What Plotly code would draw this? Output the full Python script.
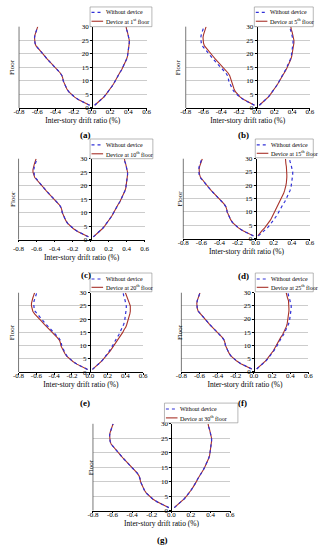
import plotly.graph_objects as go

# ---------------- data ----------------
floors = list(range(1, 31))
x_tickvals = [-0.8, -0.6, -0.4, -0.2, 0.0, 0.2, 0.4, 0.6]
x_ticktext = ["-0.8", "-0.6", "-0.4", "-0.2", "0.0", "0.2", "0.4", "0.6"]
y_tickvals = [0, 5, 10, 15, 20, 25, 30]

panel_letters = ["(a)", "(b)", "(c)", "(d)", "(e)", "(f)", "(g)"]
device_labels = ["Device at 1<sup>st</sup> floor", "Device at 5<sup>th</sup> floor",
                 "Device at 10<sup>th</sup> floor", "Device at 15<sup>th</sup> floor",
                 "Device at 20<sup>th</sup> floor", "Device at 25<sup>th</sup> floor",
                 "Device at 30<sup>th</sup> floor"]

without_neg = [-0.025, -0.09, -0.145, -0.19, -0.225, -0.255, -0.275, -0.29, -0.305, -0.315,
               -0.32, -0.33, -0.35, -0.38, -0.41, -0.44, -0.465, -0.49, -0.515, -0.54,
               -0.57, -0.595, -0.615, -0.625, -0.63, -0.63, -0.625, -0.615, -0.605, -0.595]
without_pos = [0.03, 0.065, 0.10, 0.13, 0.155, 0.18, 0.20, 0.22, 0.24, 0.255,
               0.27, 0.29, 0.305, 0.325, 0.34, 0.355, 0.37, 0.38, 0.39, 0.395,
               0.40, 0.405, 0.41, 0.41, 0.41, 0.405, 0.40, 0.39, 0.38, 0.375]

dev1_neg = [-0.025, -0.09, -0.145, -0.19, -0.225, -0.255, -0.275, -0.29, -0.305, -0.315,
            -0.32, -0.33, -0.35, -0.38, -0.41, -0.44, -0.465, -0.49, -0.515, -0.54,
            -0.57, -0.595, -0.615, -0.625, -0.63, -0.63, -0.625, -0.615, -0.605, -0.595]
dev1_pos = [0.03, 0.065, 0.10, 0.13, 0.155, 0.18, 0.20, 0.22, 0.24, 0.255,
            0.27, 0.29, 0.305, 0.325, 0.34, 0.355, 0.37, 0.38, 0.39, 0.395,
            0.40, 0.405, 0.41, 0.41, 0.41, 0.405, 0.40, 0.39, 0.38, 0.375]

dev5_neg = [-0.025, -0.09, -0.14, -0.185, -0.215, -0.24, -0.255, -0.265, -0.28, -0.29,
            -0.295, -0.305, -0.325, -0.355, -0.385, -0.415, -0.44, -0.465, -0.49, -0.515,
            -0.545, -0.57, -0.59, -0.60, -0.605, -0.605, -0.60, -0.59, -0.58, -0.57]
dev5_pos = [0.03, 0.065, 0.10, 0.13, 0.155, 0.18, 0.20, 0.22, 0.24, 0.26,
            0.275, 0.295, 0.31, 0.33, 0.345, 0.36, 0.375, 0.385, 0.395, 0.40,
            0.41, 0.415, 0.42, 0.42, 0.42, 0.415, 0.41, 0.40, 0.39, 0.385]

dev10_neg = [-0.025, -0.09, -0.145, -0.19, -0.225, -0.255, -0.275, -0.29, -0.305, -0.315,
             -0.32, -0.33, -0.35, -0.38, -0.41, -0.44, -0.465, -0.49, -0.515, -0.54,
             -0.57, -0.595, -0.62, -0.63, -0.64, -0.64, -0.635, -0.625, -0.615, -0.605]
dev10_pos = [0.03, 0.065, 0.10, 0.13, 0.155, 0.18, 0.20, 0.22, 0.24, 0.255,
             0.27, 0.29, 0.305, 0.325, 0.34, 0.355, 0.37, 0.38, 0.39, 0.395,
             0.40, 0.405, 0.41, 0.41, 0.41, 0.405, 0.40, 0.39, 0.38, 0.375]

dev15_neg = [-0.025, -0.09, -0.145, -0.19, -0.225, -0.255, -0.275, -0.29, -0.305, -0.315,
             -0.32, -0.33, -0.35, -0.38, -0.41, -0.44, -0.465, -0.49, -0.515, -0.54,
             -0.57, -0.59, -0.61, -0.62, -0.625, -0.625, -0.62, -0.61, -0.60, -0.59]
dev15_pos = [0.025, 0.045, 0.07, 0.10, 0.125, 0.145, 0.165, 0.18, 0.195, 0.21,
             0.225, 0.24, 0.255, 0.27, 0.28, 0.295, 0.31, 0.32, 0.33, 0.335,
             0.34, 0.345, 0.345, 0.345, 0.345, 0.34, 0.34, 0.335, 0.33, 0.33]

dev20_neg = [-0.025, -0.09, -0.145, -0.19, -0.225, -0.26, -0.28, -0.295, -0.31, -0.325,
             -0.33, -0.34, -0.365, -0.395, -0.425, -0.46, -0.485, -0.51, -0.535, -0.565,
             -0.595, -0.62, -0.64, -0.65, -0.655, -0.655, -0.65, -0.64, -0.63, -0.62]
dev20_pos = [0.03, 0.065, 0.10, 0.13, 0.155, 0.185, 0.205, 0.23, 0.25, 0.27,
             0.29, 0.31, 0.33, 0.355, 0.37, 0.385, 0.405, 0.415, 0.425, 0.435,
             0.44, 0.45, 0.455, 0.455, 0.455, 0.445, 0.435, 0.42, 0.41, 0.40]

dev25_neg = [-0.025, -0.09, -0.145, -0.19, -0.225, -0.255, -0.275, -0.29, -0.305, -0.315,
             -0.32, -0.33, -0.35, -0.38, -0.41, -0.44, -0.465, -0.49, -0.515, -0.54,
             -0.57, -0.595, -0.615, -0.625, -0.63, -0.63, -0.625, -0.615, -0.605, -0.595]
dev25_pos = [0.03, 0.065, 0.10, 0.125, 0.15, 0.175, 0.195, 0.215, 0.23, 0.245,
             0.26, 0.28, 0.295, 0.315, 0.33, 0.345, 0.355, 0.365, 0.37, 0.375,
             0.38, 0.385, 0.385, 0.385, 0.385, 0.385, 0.38, 0.37, 0.36, 0.355]

dev30_neg = [-0.025, -0.09, -0.145, -0.19, -0.225, -0.255, -0.275, -0.29, -0.305, -0.315,
             -0.32, -0.33, -0.35, -0.38, -0.41, -0.44, -0.465, -0.49, -0.515, -0.54,
             -0.57, -0.595, -0.615, -0.625, -0.63, -0.63, -0.625, -0.615, -0.605, -0.595]
dev30_pos = [0.03, 0.065, 0.10, 0.13, 0.155, 0.18, 0.20, 0.22, 0.24, 0.255,
             0.27, 0.29, 0.305, 0.325, 0.34, 0.355, 0.37, 0.38, 0.39, 0.395,
             0.40, 0.405, 0.41, 0.41, 0.41, 0.405, 0.40, 0.39, 0.38, 0.375]

device_neg = [dev1_neg, dev5_neg, dev10_neg, dev15_neg, dev20_neg, dev25_neg, dev30_neg]
device_pos = [dev1_pos, dev5_pos, dev10_pos, dev15_pos, dev20_pos, dev25_pos, dev30_pos]

# ---------------- layout geometry (pixels) ----------------
W, H = 326, 550
# plot box: x of -0.8 tick, x of 0.6 tick, y of 30, y of 0
boxes = [(13.5, 145.5, 23, 105.5), (186, 314.5, 23, 105.5),
         (13, 143.5, 157, 239), (183.5, 314.5, 157, 238),
         (13, 142, 293, 373.5), (181.5, 313, 293, 373),
         (90, 232, 426, 514)]
label_standoff = [-5, -5, 0, -5, -5, -5, -5]
# legend box: left, right, top, bottom, row1 y, row2 y
legboxes = [(87, 151, 3, 23, 8.5, 17.5), (257, 318, 3, 23, 8.5, 17.5),
            (87, 152, 137, 157, 143, 152), (258, 318, 137, 156, 143, 151.5),
            (87, 151, 273, 292, 279, 287.5), (258, 318, 273, 292, 279, 287.5),
            (164, 240, 405, 425, 411, 420)]
letter_pos = [(82, 133), (246, 133), (83, 275), (246, 276), (82, 405), (245, 405), (162, 544)]
floor_label_x = [7, 178, 7, 180, 7, 180, 88]

FONT = "Liberation Serif"
BLUE = "#3030d8"
RED = "#a8322a"


def px(x):
    return x / W


def py(y):
    return 1 - y / H


fig = go.Figure()
layout = dict(
    width=W, height=H, margin=dict(l=0, r=0, t=0, b=0),
    paper_bgcolor="white", plot_bgcolor="white",
    font=dict(family=FONT, size=7, color="black"),
    showlegend=False,
)
shapes = []
annotations = []

for i in range(7):
    k = "" if i == 0 else str(i + 1)
    xa, ya = "x" + k, "y" + k
    x0, x1, yt, yb = boxes[i]
    dom_x = [px(x0), px(x1)]
    dom_y = [py(yb), py(yt)]
    zero_pos = dom_x[0] + (0.8 / 1.4) * (dom_x[1] - dom_x[0])

    fig.add_trace(go.Scatter(x=device_neg[i], y=floors, xaxis=xa, yaxis=ya, mode="lines",
                             name=device_labels[i], line=dict(color=RED, width=1.1)))
    fig.add_trace(go.Scatter(x=device_pos[i], y=floors, xaxis=xa, yaxis=ya, mode="lines",
                             name=device_labels[i], line=dict(color=RED, width=1.1)))
    fig.add_trace(go.Scatter(x=without_neg, y=floors, xaxis=xa, yaxis=ya, mode="lines",
                             name="Without device", line=dict(color=BLUE, width=1.2, dash="dot")))
    fig.add_trace(go.Scatter(x=without_pos, y=floors, xaxis=xa, yaxis=ya, mode="lines",
                             name="Without device", line=dict(color=BLUE, width=1.2, dash="dot")))

    layout["xaxis" + k] = dict(
        domain=dom_x, anchor=ya, range=[-0.8, 0.6],
        tickmode="array", tickvals=x_tickvals, ticktext=x_ticktext,
        ticks="outside", ticklen=2, tickwidth=0.8, tickcolor="black",
        ticklabelstandoff=label_standoff[i],
        showline=True, linecolor="black", linewidth=0.8,
        showgrid=False, zeroline=False,
        tickfont=dict(family=FONT, size=7),
        title=dict(text="Inter-story drift ratio (%)", font=dict(family=FONT, size=7.5), standoff=1),
    )
    layout["yaxis" + k] = dict(
        domain=dom_y, anchor="free", position=zero_pos, range=[0, 30],
        tickmode="array", tickvals=y_tickvals,
        ticks="outside", ticklen=2, tickwidth=0.8, tickcolor="black",
        showline=True, linecolor="black", linewidth=0.8,
        showgrid=True, gridcolor="#cccccc", gridwidth=0.6, zeroline=False,
        tickfont=dict(family=FONT, size=7),
    )
    # left frame line
    shapes.append(dict(type="line", xref=xa + " domain", yref=ya + " domain",
                       x0=0, x1=0, y0=0, y1=1, line=dict(color="#555555", width=0.8)))
    # Floor label
    annotations.append(dict(text="Floor", x=px(floor_label_x[i]), y=(dom_y[0] + dom_y[1]) / 2,
                            xref="paper", yref="paper", showarrow=False, textangle=-90,
                            font=dict(family=FONT, size=7), xanchor="center", yanchor="middle"))
    # panel letter
    lx, ly = letter_pos[i]
    annotations.append(dict(text=panel_letters[i], x=px(lx), y=py(ly),
                            xref="paper", yref="paper", showarrow=False,
                            font=dict(family=FONT, size=9, weight="bold"),
                            xanchor="center", yanchor="middle"))
    # legend
    L, R, T, B, r1, r2 = legboxes[i]
    shapes.append(dict(type="rect", xref="paper", yref="paper", x0=px(L), x1=px(R), y0=py(B), y1=py(T),
                       fillcolor="white", line=dict(color="#888888", width=0.6)))
    shapes.append(dict(type="line", xref="paper", yref="paper", x0=px(L + 1.5), x1=px(L + 13.5),
                       y0=py(r1), y1=py(r1), line=dict(color=BLUE, width=1.1, dash="dot")))
    shapes.append(dict(type="line", xref="paper", yref="paper", x0=px(L + 1.5), x1=px(L + 13.5),
                       y0=py(r2), y1=py(r2), line=dict(color=RED, width=1.1)))
    annotations.append(dict(text="Without device", x=px(L + 14.5), y=py(r1), xref="paper", yref="paper",
                            showarrow=False, xanchor="left", yanchor="middle",
                            font=dict(family=FONT, size=6)))
    annotations.append(dict(text=device_labels[i], x=px(L + 14.5), y=py(r2), xref="paper", yref="paper",
                            showarrow=False, xanchor="left", yanchor="middle",
                            font=dict(family=FONT, size=6)))

layout["shapes"] = shapes
layout["annotations"] = annotations
fig.update_layout(**layout)
fig.write_html("out.html", config={"displayModeBar": False},
               post_script="document.body.style.margin='0';document.body.style.overflow='hidden';")
